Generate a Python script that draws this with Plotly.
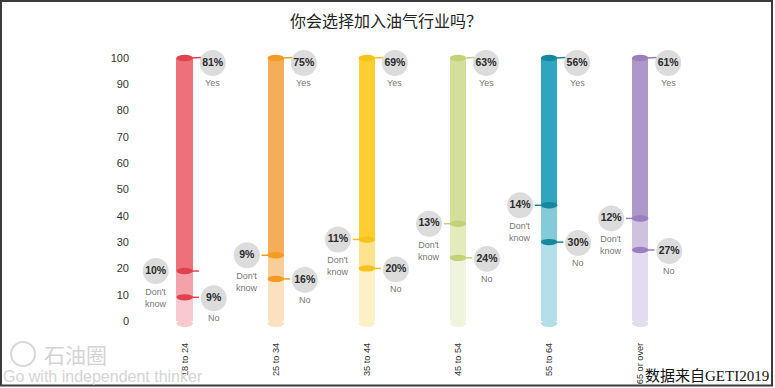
import plotly.graph_objects as go

# ---------------- data ----------------
ages = ["18 to 24", "25 to 34", "35 to 44", "45 to 54", "55 to 64", "65 or over"]
yes_pct = [81, 75, 69, 63, 56, 61]
dont_know_pct = [10, 9, 11, 13, 14, 12]
no_pct = [9, 16, 20, 24, 30, 27]
y_ticks = [0, 10, 20, 30, 40, 50, 60, 70, 80, 90, 100]
title_text = "你会选择加入油气行业吗？"
source_text = "数据来自GETI2019"
yes_label = "Yes"
dk_label = "Don't<br>know"
no_label = "No"

# ---------------- styles ----------------
yes_colors = ["#EE707B", "#F3AE57", "#FECE30", "#D3DF9A", "#30A5BF", "#AE98CA"]
dk_colors = ["#F3A2AA", "#F8CD98", "#FEE38E", "#E3EBBB", "#84CAD8", "#CFC1E0"]
no_colors = ["#F8CACF", "#FBE1C0", "#FEF0C6", "#EFF4DC", "#B2DFE8", "#E4DCEE"]
mark_colors = ["#E0434F", "#F39B22", "#F7C21A", "#C3D279", "#16879F", "#9A7EBE"]
dk_side = [1, -1, -1, -1, -1, -1]

W, H = 775, 388
PLOT_L, PLOT_R, PLOT_T, PLOT_B = 130, 770, 40, 328
X0_PX, X_STEP = 184.7, 91.1     # px of first column, px per category
Y0_PX, Y_STEP = 321.0, 2.63     # px of value 0, px per unit


def dx(p):
    return p / X_STEP


def dy(p):
    return p / Y_STEP


def fx(p):
    return p / W


def fy(p):
    return 1 - p / H


xr = [-(X0_PX - PLOT_L) / X_STEP, (PLOT_R - X0_PX) / X_STEP]
yr = [-(PLOT_B - Y0_PX) / Y_STEP, 100 + (Y0_PX - 100 * Y_STEP - PLOT_T) / Y_STEP]

idx = list(range(len(ages)))
bw = dx(16.5)
hw = bw / 2

fig = go.Figure()
for vals, cols in [(no_pct, no_colors), (dont_know_pct, dk_colors), (yes_pct, yes_colors)]:
    fig.add_bar(x=idx, y=vals, width=bw, marker=dict(color=cols, line=dict(width=0)),
                hoverinfo="skip", showlegend=False)

shapes = []
annotations = []
bx, by, bt = [], [], []
for i in idx:
    n = no_pct[i]
    d = dont_know_pct[i]
    top = n + d + yes_pct[i]
    mc = mark_colors[i]
    # rounded bottom
    shapes.append(dict(type="circle", xref="x", yref="y", x0=i - hw, x1=i + hw,
                       y0=-dy(6), y1=dy(1), fillcolor=no_colors[i], line_width=0, layer="below"))
    # top cap
    shapes.append(dict(type="circle", xref="x", yref="y", x0=i - hw, x1=i + hw,
                       y0=top - dy(3.2), y1=top + dy(3.2), fillcolor=mc, line_width=0))
    shapes.append(dict(type="line", xref="x", yref="y", x0=i + hw - dx(1), x1=i + hw + dx(8),
                       y0=top, y1=top + dy(0.5), line=dict(color=mc, width=1.5)))
    # boundary markers
    for v, s in [(n, 1), (n + d, dk_side[i])]:
        shapes.append(dict(type="circle", xref="x", yref="y", x0=i - hw, x1=i + hw,
                           y0=v - dy(3.2), y1=v + dy(3.2), fillcolor=mc, line_width=0))
        shapes.append(dict(type="line", xref="x", yref="y", x0=i + s * (hw - dx(1)),
                           x1=i + s * (hw + dx(6)), y0=v, y1=v, line=dict(color=mc, width=1.5)))
    # bubbles
    yx, yy = i + dx(28), top - dy(5)
    kx, ky = i - dx(29), n + d
    nx, ny = i + dx(29), n - dy(1)
    bx += [yx, kx, nx]
    by += [yy, ky, ny]
    bt += [f"{yes_pct[i]}%", f"{d}%", f"{n}%"]
    lab_font = dict(family="Liberation Sans, Arial", size=9, color="#777")
    annotations.append(dict(x=yx, y=yy, xref="x", yref="y", text=yes_label, showarrow=False,
                            yshift=-20, font=lab_font))
    annotations.append(dict(x=nx, y=ny, xref="x", yref="y", text=no_label, showarrow=False,
                            yshift=-20, font=lab_font))
    annotations.append(dict(x=kx, y=ky, xref="x", yref="y", text=dk_label, showarrow=False,
                            yanchor="top", yshift=-14, font=lab_font))

fig.add_scatter(x=bx, y=by, text=bt, mode="markers+text", textposition="middle center",
                marker=dict(size=26, color="#DCDCDC", line=dict(width=0)),
                textfont=dict(family="Liberation Sans, Arial", size=10.5, color="#2a2a2a", weight="bold"),
                hoverinfo="skip", showlegend=False, cliponaxis=False)

# title & source
annotations.append(dict(x=fx(386), y=fy(20), xref="paper", yref="paper", text=title_text,
                        showarrow=False, xanchor="center", yanchor="middle",
                        font=dict(family="Noto Sans CJK SC", size=16, color="#222")))
annotations.append(dict(x=fx(771), y=fy(376), xref="paper", yref="paper", text=source_text,
                        showarrow=False, xanchor="right", yanchor="middle",
                        font=dict(family="Liberation Serif, Noto Sans CJK SC", size=15, color="#111")))
# watermark
annotations.append(dict(x=fx(42), y=fy(354), xref="paper", yref="paper", text="石油圈",
                        showarrow=False, xanchor="left", yanchor="middle",
                        font=dict(family="Noto Sans CJK SC", size=21, color="#D4D4D4")))
annotations.append(dict(x=fx(1), y=fy(376), xref="paper", yref="paper", text="Go with independent thinker",
                        showarrow=False, xanchor="left", yanchor="middle",
                        font=dict(family="Liberation Sans, Arial", size=16, color="#D4D4D4")))
shapes.append(dict(type="circle", xref="paper", yref="paper", x0=fx(11), x1=fx(35),
                   y0=fy(366), y1=fy(342), line=dict(color="#D8D8D8", width=2)))
# frame
shapes.append(dict(type="rect", xref="paper", yref="paper", x0=fx(1), x1=fx(772),
                   y0=fy(385.5), y1=fy(1), line=dict(color="#3a3a3a", width=2)))

fig.update_layout(
    template="none",
    width=W, height=H,
    margin=dict(l=0, r=0, t=0, b=0, pad=0),
    paper_bgcolor="white", plot_bgcolor="white",
    barmode="stack", bargap=0,
    showlegend=False,
    shapes=shapes, annotations=annotations,
    xaxis=dict(domain=[fx(PLOT_L), fx(PLOT_R)], range=xr, tickmode="array", tickvals=idx,
               ticktext=ages, tickangle=-90, showgrid=False, zeroline=False, showline=False,
               ticks="", ticklabelstandoff=12, automargin=False,
               tickfont=dict(family="Liberation Sans, Arial", size=9.2, color="#333333")),
    yaxis=dict(domain=[fy(PLOT_B), fy(PLOT_T)], range=yr, tickmode="array", tickvals=y_ticks,
               showgrid=False, zeroline=False, showline=False, ticks="", automargin=False,
               tickfont=dict(family="Liberation Sans, Arial", size=11, color="#333333")),
)

fig.write_html(
    "out.html",
    config={"displayModeBar": False},
    post_script="document.body.style.margin='0';document.body.style.padding='0';"
                "document.body.style.overflow='hidden';",
)
